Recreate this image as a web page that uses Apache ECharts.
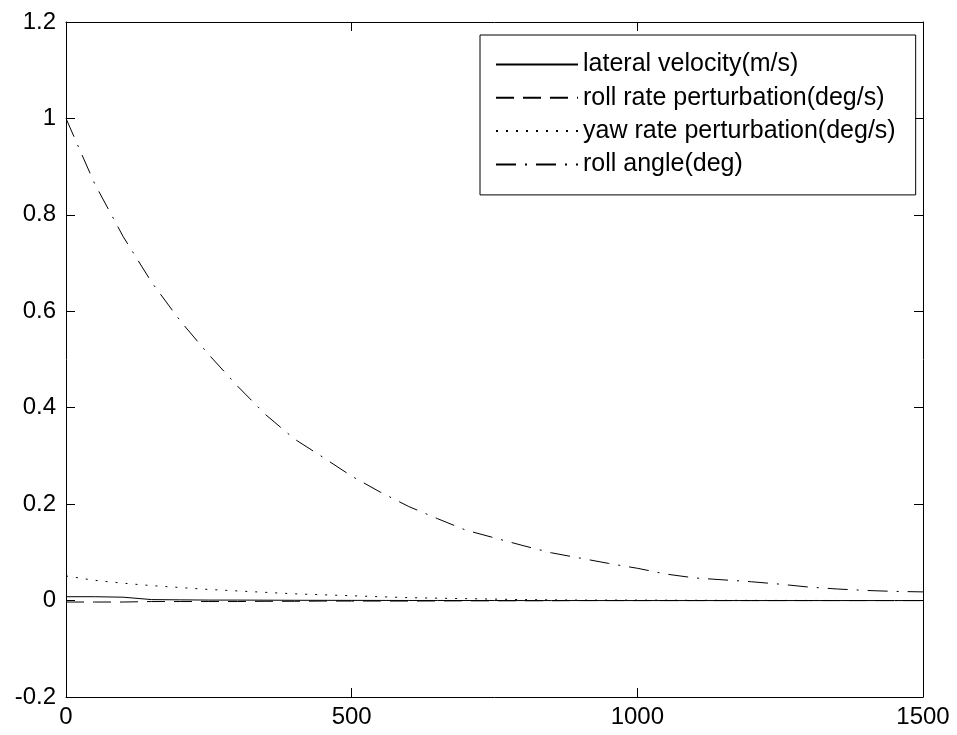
<!DOCTYPE html>
<html>
<head>
<meta charset="utf-8">
<script src="https://cdn.jsdelivr.net/npm/echarts@6/dist/echarts.min.js"></script>
<style>
html,body{margin:0;padding:0;background:#fff;}
#chart{width:957px;height:735px;}
</style>
</head>
<body>
<div id="chart"></div>
<script>
var times = [0,50,100,150,200,250,300,350,400,450,500,550,600,650,700,750,800,850,900,950,1000,1050,1100,1150,1200,1250,1300,1350,1400,1450,1500];
var lateralVelocity = [0.008,0.008,0.007,0.002,0.0015,0.001,0.001,0.0008,0.0006,0.0005,0.0004,0.0003,0.0002,0.0002,0.0001,0.0001,0,0,0,0,0,0,0,0,0,0,0,0,0,0,0];
var rollRate = [-0.003,-0.003,-0.003,-0.002,-0.002,-0.002,-0.002,-0.0015,-0.0015,-0.001,-0.001,-0.001,-0.001,-0.0008,-0.0006,-0.0005,-0.0004,-0.0003,0,0,0,0,0,0,0,0,0,0,0,0,0];
var yawRate = [0.051,0.042,0.036,0.031,0.027,0.023,0.020,0.017,0.014,0.012,0.010,0.008,0.006,0.005,0.004,0.003,0.002,0.0015,0.001,0.001,0.001,0.0008,0.0006,0.0005,0.0004,0.0003,0.0003,0.0002,0.0002,0.0001,0.0001];
var rollAngle = [1.0,0.865,0.755,0.66,0.58,0.51,0.445,0.385,0.335,0.297,0.258,0.225,0.195,0.17,0.146,0.13,0.114,0.099,0.088,0.077,0.067,0.055,0.047,0.043,0.039,0.034,0.028,0.024,0.021,0.019,0.018];
var seriesNames = ['lateral velocity(m/s)','roll rate perturbation(deg/s)','yaw rate perturbation(deg/s)','roll angle(deg)'];
var xTicks = {min:0, max:1500, interval:500};
var yTicks = {min:-0.2, max:1.2, interval:0.2};

function pairs(vals){ return times.map(function(t,i){ return [t, vals[i]]; }); }

var font = 'Liberation Sans, Arial, sans-serif';
var axisCommon = {
  axisLine:{show:true, onZero:false, lineStyle:{color:'#000', width:1}},
  axisTick:{show:true, inside:true, length:9, lineStyle:{color:'#000', width:1}},
  splitLine:{show:false}
};
function mkAxis(base){ return Object.assign({}, axisCommon, base); }

var dashes = ['solid', [18,9], [2,8], [20,9,2,9]];
var allVals = [lateralVelocity, rollRate, yawRate, rollAngle];

var chart = echarts.init(document.getElementById('chart'), null, {renderer:'canvas'});
chart.setOption({
  animation:false,
  backgroundColor:'#fff',
  grid:{left:66, right:34, top:22, bottom:38, containLabel:false},
  xAxis:[
    mkAxis({type:'value', position:'bottom', min:xTicks.min, max:xTicks.max, interval:xTicks.interval,
      axisLabel:{show:true, color:'#000', fontFamily:font, fontSize:24, margin:8,
        formatter:function(v){ return String(v); }}}),
    mkAxis({type:'value', position:'top', min:xTicks.min, max:xTicks.max, interval:xTicks.interval,
      axisLabel:{show:false}})
  ],
  yAxis:[
    mkAxis({type:'value', position:'left', min:yTicks.min, max:yTicks.max, interval:yTicks.interval,
      axisLabel:{show:true, color:'#000', fontFamily:font, fontSize:24, margin:10,
        formatter:function(v){ return String(Math.round(v*10)/10); }}}),
    mkAxis({type:'value', position:'right', min:yTicks.min, max:yTicks.max, interval:yTicks.interval,
      axisLabel:{show:false}})
  ],
  legend:{
    show:true, orient:'vertical', left:480, top:35,
    backgroundColor:'#fff', borderColor:'#000', borderWidth:1,
    padding:[17,20,18,15], itemGap:8.3, itemWidth:82, itemHeight:14,
    itemStyle:{opacity:0},
    textStyle:{color:'#000', fontFamily:font, fontSize:25, lineHeight:25},
    data:seriesNames
  },
  series: seriesNames.map(function(n,i){
    return {
      name:n, type:'line', xAxisIndex:0, yAxisIndex:0,
      data:pairs(allVals[i]), symbol:'none', showSymbol:false,
      lineStyle:{color:'#000', width:1, type:dashes[i]},
      itemStyle:{color:'#000'}
    };
  })
});
</script>
</body>
</html>
